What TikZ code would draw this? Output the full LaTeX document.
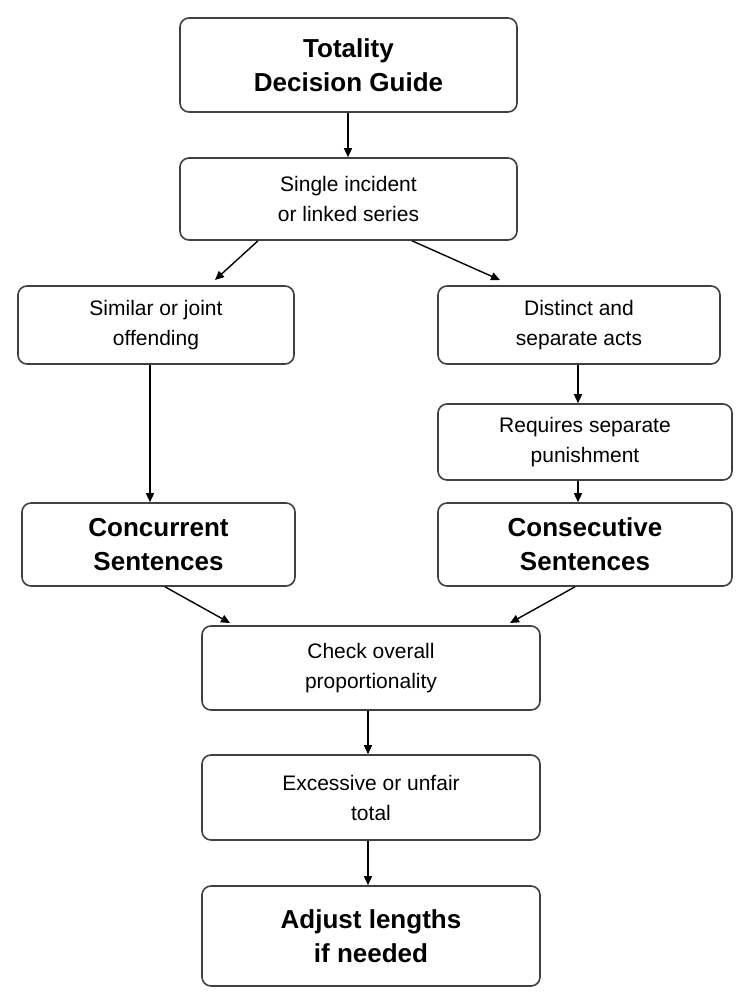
\documentclass[tikz,border=0pt]{standalone}
\usepackage{fontspec}
\setmainfont{Liberation Sans}
\usetikzlibrary{arrows.meta}
\begin{document}
\begin{tikzpicture}[x=1pt,y=-1pt,
  box/.style={draw=black!75,line width=1.6pt,rounded corners=9pt,fill=white,align=center,inner sep=0pt,font=\fontsize{21}{30}\selectfont},
  bbox/.style={box,font=\fontsize{26}{34}\selectfont\bfseries},
  arr/.style={-{Triangle[length=9pt,width=8pt]},line width=1.4pt,black}]
\useasboundingbox (0,0) rectangle (751,1005);
\newcommand\bx[6]{\node[#1,minimum width=#4-#2,minimum height=#5-#3] (#6) at ({(#2+#4)/2},{(#3+#5)/2}) {};}
\node[bbox,minimum width=337pt,minimum height=94pt] (t) at (348.5,65) {Totality\\Decision Guide};
\node[box,minimum width=337pt,minimum height=82pt] (s) at (348.5,199) {Single incident\\or linked series};
\node[box,minimum width=276pt,minimum height=78pt] (sim) at (156,325) {Similar or joint\\offending};
\node[box,minimum width=282pt,minimum height=78pt] (dis) at (579,325) {Distinct and\\separate acts};
\node[box,minimum width=294pt,minimum height=76pt] (req) at (585,442) {Requires separate\\punishment};
\node[bbox,minimum width=273pt,minimum height=83pt] (con) at (158.5,544.5) {Concurrent\\Sentences};
\node[bbox,minimum width=294pt,minimum height=83pt] (cos) at (585,544.5) {Consecutive\\Sentences};
\node[box,minimum width=338pt,minimum height=84pt] (chk) at (371,668) {Check overall\\proportionality};
\node[box,minimum width=338pt,minimum height=85pt] (exc) at (371,797.5) {Excessive or unfair\\total};
\node[bbox,minimum width=338pt,minimum height=100pt] (adj) at (371,936) {Adjust lengths\\if needed};
\draw[arr] (t.south -| 348,0) -- (s.north -| 348,0);
\draw[arr] (s.south -| 258,0) -- (215,280);
\draw[arr] (s.south -| 412,0) -- (500,280);
\draw[arr] (sim.south -| 150,0) -- (con.north -| 150,0);
\draw[arr] (dis.south -| 578,0) -- (req.north -| 578,0);
\draw[arr] (req.south -| 578,0) -- (cos.north -| 578,0);
\draw[arr] (con.south -| 165,0) -- (230,623);
\draw[arr] (cos.south -| 575,0) -- (510,623);
\draw[arr] (chk.south -| 368,0) -- (exc.north -| 368,0);
\draw[arr] (exc.south -| 368,0) -- (adj.north -| 368,0);
\end{tikzpicture}
\end{document}
